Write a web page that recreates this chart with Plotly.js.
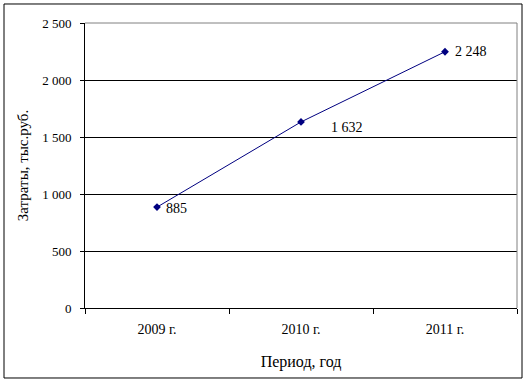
<!DOCTYPE html>
<html><head><meta charset="utf-8">
<script src="https://cdn.plot.ly/plotly-3.0.1.min.js"></script>
<style>body{margin:0;background:#fff}#c{width:527px;height:382px}</style>
</head><body><div id="c"></div>
<script>
var categories = ['2009 г.', '2010 г.', '2011 г.'];
var values = [885, 1632, 2248];
var valueLabels = ['885', '1 632', '2 248'];
var yTickVals = [0, 500, 1000, 1500, 2000, 2500];
var yTickText = ['0', '500', '1 000', '1 500', '2 000', '2 500'];

var labelShiftX = [7, 28, 8];
var labelShiftY = [-1, -6, 0];

var serif = 'Liberation Serif, Times New Roman, serif';
var trace = {
  x: categories, y: values, type: 'scatter', mode: 'lines+markers',
  line: {color: '#000080', width: 1},
  marker: {symbol: 'diamond', size: 6, color: '#000080'},
  hoverinfo: 'none'
};
var annotations = categories.map(function(c, i){
  return {x: c, y: values[i], text: valueLabels[i], showarrow: false,
    xanchor: 'left', xshift: labelShiftX[i], yshift: labelShiftY[i],
    font: {family: serif, size: 14, color: '#000'}};
});
var shapes = [
  {type:'line', xref:'paper', yref:'paper', x0:0, x1:1, y0:1, y1:1, line:{color:'#808080', width:1}},
  {type:'line', xref:'paper', yref:'paper', x0:1, x1:1, y0:0, y1:1, line:{color:'#808080', width:1}},
  {type:'rect', xref:'paper', yref:'paper', x0:-0.1875, x1:1.0116, y0:-0.2456, y1:1.0667, line:{color:'#000', width:1}}
];
var layout = {
  width: 527, height: 382,
  margin: {l: 85, r: 10, t: 23, b: 74},
  paper_bgcolor: '#fff', plot_bgcolor: '#fff',
  showlegend: false,
  font: {family: serif, size: 14, color: '#000'},
  xaxis: {
    type: 'category', range: [-0.5, 2.5], tickson: 'boundaries', ticks: 'outside', ticklen: 5, tickcolor: '#000',
    showline: true, linecolor: '#000', linewidth: 1, showgrid: false, zeroline: false,
    tickfont: {family: serif, size: 14}, ticklabelstandoff: 8,
    title: {text: 'Период, год', font: {family: serif, size: 16}, standoff: 20},
    fixedrange: true
  },
  yaxis: {
    range: [0, 2500], tickvals: yTickVals, ticktext: yTickText,
    ticks: 'outside', ticklen: 4, tickcolor: '#000',
    showline: true, linecolor: '#000', linewidth: 1,
    showgrid: true, gridcolor: '#000', gridwidth: 1, zeroline: false,
    tickfont: {family: serif, size: 13}, ticklabelstandoff: 6,
    title: {text: 'Затраты, тыс.руб.', font: {family: serif, size: 15}, standoff: 9},
    fixedrange: true
  },
  annotations: annotations,
  shapes: shapes
};
Plotly.newPlot('c', [trace], layout, {displayModeBar: false, staticPlot: true});
</script></body></html>
